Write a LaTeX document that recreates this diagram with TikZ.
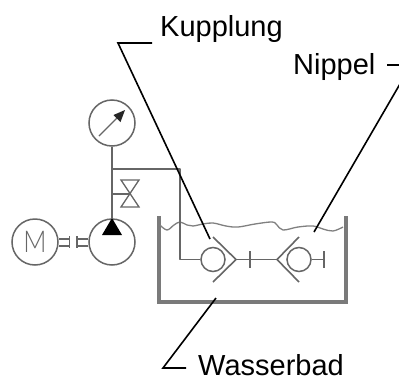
\documentclass[tikz,border=0pt]{standalone}
\usepackage{fontspec}
\setmainfont{Liberation Sans}
\newfontfamily\thinfont{Lato Light}
\tikzset{
  pipe/.style={draw=black!60,line width=1.6pt,line join=round},
  thin pipe/.style={draw=black!60,line width=1.3pt},
  wall/.style={draw=black!52,line width=3.2pt,line join=miter},
  leader/.style={draw=black,line width=1.6pt,line join=miter},
  round part/.style={circle,draw=black!60,line width=1.5pt,inner sep=0pt,fill=white},
  big/.style={round part,minimum size=46pt},
  small/.style={round part,minimum size=24pt},
  label/.style={anchor=base west,inner sep=0pt,text=black,font=\fontsize{29}{29}\selectfont}
}
\begin{document}
\begin{tikzpicture}[x=1pt,y=-1pt]
\useasboundingbox (0,0) rectangle (399,378);
\fill[white] (0,0) rectangle (399,378);
\begin{scope}
\clip (0,0) rectangle (399,378);
% tank
\draw[wall] (159,216) -- (159,302) -- (346,302) -- (346,216);
% water
\draw[draw=black!50,line width=1.3pt] plot[smooth,tension=0.6] coordinates {(160,225) (167,230) (174,225) (180,222) (187,225) (193,226) (203,224) (213,223) (226,226) (238,227) (255,224) (272,222) (277,225) (283,230) (298,227) (313,226) (323,229) (333,231) (343,227)};
% parts
\node[big] (gauge) at (112,123) {};
\node[big] (pump) at (112,242) {};
\node[big,font=\fontsize{30}{30}\selectfont\thinfont,text=black!60] (motor) at (35,242) {\scalebox{0.85}[1]{M}};
\node[small] (kball) at (213,259.5) {};
\node[small] (nball) at (299,259.5) {};
\coordinate (tee) at (112,169);
\coordinate (corner) at (180,169);
\coordinate (low) at (180,259.5);
\coordinate (vtee) at (112,194);
\coordinate (vc) at (130,194);
\coordinate (ktip) at (236,259.5);
\coordinate (ntip) at (277,259.5);
\coordinate (nend) at (324,259.5);
% pipes
\draw[pipe] (gauge.south) -- (pump.north);
\draw[pipe] (tee) -- (corner) -- (low) -- (kball.west);
\draw[thin pipe] (vtee) -- (vc);
\draw[thin pipe] (121,180) -- (139,180) -- (121,207) -- (139,207) -- cycle;
% gauge needle
\draw[thin pipe] (99,136) -- (120,115);
\fill[black!85] (125,110) -- (120.5,122) -- (113.5,115) -- cycle;
% pump triangle
\fill[black] (112,218) -- (122,235) -- (102,235) -- cycle;
% shaft coupling
\draw[thin pipe] (motor.east |- 0,239) -- (69,239);
\draw[thin pipe] (motor.east |- 0,246) -- (69,246);
\draw[pipe] (69.5,236) -- (69.5,248);
\draw[pipe] (77,236) -- (77,248);
\draw[thin pipe] (77,239) -- (pump.west |- 0,239);
\draw[thin pipe] (77,246) -- (pump.west |- 0,246);
% coupling
\draw[pipe] (213,237) -- (ktip) -- (213,282);
\draw[pipe] (ktip) -- (ntip);
\draw[pipe] (250,251) -- (250,268);
\draw[pipe] (299,237) -- (ntip) -- (299,282);
\draw[pipe] (nball.east) -- (nend);
\draw[pipe] (324,251) -- (324,268);
% leaders
\coordinate (kA) at (152,43);
\coordinate (kB) at (118,43);
\coordinate (kC) at (210,239);
\coordinate (nA) at (387,65);
\coordinate (nB) at (411,65);
\coordinate (nC) at (314,232);
\coordinate (wA) at (186,368);
\coordinate (wB) at (163,368);
\coordinate (wC) at (216,298);
\draw[leader] (kA) -- (kB) -- (kC);
\draw[leader] (nA) -- (nB) -- (nC);
\draw[leader] (wA) -- (wB) -- (wC);
\end{scope}
% labels
\node[label] (kup) at (160,36) {Kupplung};
\node[label] (nip) at (293,74) {Nippel};
\node[label] (was) at (198,375.5) {Wasserbad};
\end{tikzpicture}
\end{document}
